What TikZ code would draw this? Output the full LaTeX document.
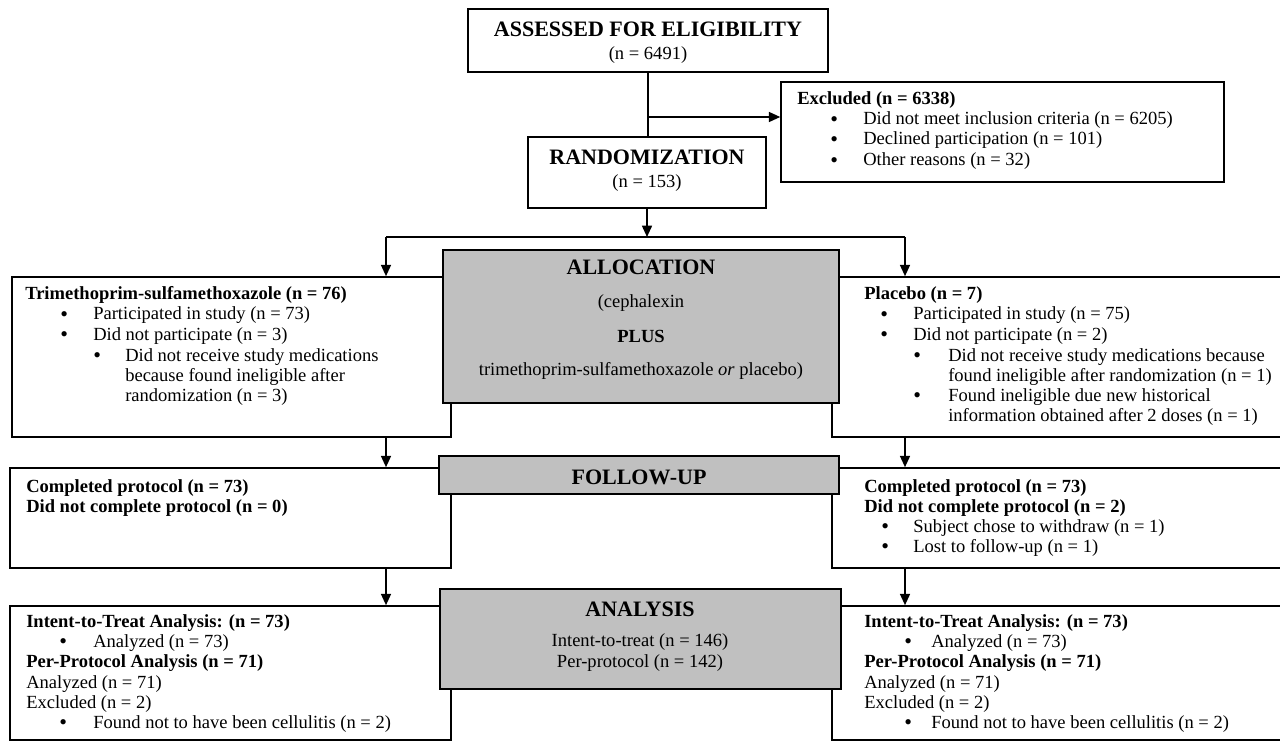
\documentclass[tikz,border=0pt]{standalone}
\usepackage{fontspec}
\setmainfont{Liberation Serif}
\usetikzlibrary{arrows.meta,fit}
\definecolor{grayfill}{HTML}{C0C0C0}
\newcommand\bodyf{\fontsize{13.9pt}{15.2pt}\selectfont}
\newcommand\headf{\fontsize{16.5pt}{19pt}\selectfont\bfseries}
\newcommand\bigbul{\raisebox{-0.9pt}{\fontsize{16.5pt}{16.5pt}\selectfont\textbullet}}
\tikzset{
  box/.style={draw=black, line width=1.2pt, fill=white, inner sep=0pt, rectangle},
  graybox/.style={box, fill=grayfill},
  txt/.style={anchor=base west, inner sep=0pt, font=\bodyf},
  ctxt/.style={anchor=base, inner sep=0pt, font=\bodyf},
  htxt/.style={anchor=base, inner sep=0pt, font=\headf},
  arr/.style={line width=1.2pt, -{Triangle[length=8.5pt,width=7.5pt]}},
  ln/.style={line width=1.2pt},
}
\newcommand\tline[4]{\node[txt] (#1) at (#2,#3) {#4};}
\newcommand\bline[5]{\node[txt] (#1) at (#2,#3) {\makebox[#4][l]{\bigbul}#5};}
\begin{document}
\begin{tikzpicture}[x=0.75pt,y=-0.75pt]
\useasboundingbox (0,0) rectangle (1280,741);
\clip (0,0) rectangle (1280,741);
% boxes
\node[box, fit={(468,9) (828,72)}] (assess) {};
\node[box, fit={(781,82) (1224,182)}] (excl) {};
\node[box, fit={(528,137) (766,208)}] (rand) {};
\node[box, fit={(12,277) (451,437)}] (lbox1) {};
\node[box, fit={(832,277) (1295,437)}] (rbox1) {};
\node[box, fit={(10,468) (451,568)}] (lbox2) {};
\node[box, fit={(832,468) (1295,568)}] (rbox2) {};
\node[box, fit={(10,606) (451,740)}] (lbox3) {};
\node[box, fit={(832,606) (1295,740)}] (rbox3) {};
\node[graybox, fit={(443,250) (839,403)}] (alloc) {};
\node[graybox, fit={(439,456) (839,494)}] (follow) {};
\node[graybox, fit={(440,589) (841,689)}] (analysis) {};
% connectors
\coordinate (j1) at (648,117);
\coordinate (hl) at (647,237);
\coordinate (hlL) at (386,237);
\coordinate (hlR) at (905,237);
\draw[ln] (assess.south -| j1) -- (rand.north -| j1);
\draw[arr] (j1) -- (j1 -| excl.west);
\draw[arr] (rand.south -| hl) -- (hl);
\draw[ln] (hlL) -- (hlR);
\draw[arr] (hlL) -- (lbox1.north -| hlL);
\draw[arr] (hlR) -- (rbox1.north -| hlR);
\draw[arr] (lbox1.south -| hlL) -- (lbox2.north -| hlL);
\draw[arr] (rbox1.south -| hlR) -- (rbox2.north -| hlR);
\draw[arr] (lbox2.south -| hlL) -- (lbox3.north -| hlL);
\draw[arr] (rbox2.south -| hlR) -- (rbox3.north -| hlR);
% top texts
\node[htxt] (a1) at (648,37) {ASSESSED FOR ELIGIBILITY};
\node[ctxt] (a2) at (648,60) {(n = 6491)};
\node[htxt] (r1) at (647,165) {RANDOMIZATION};
\node[ctxt] (r2) at (647,188) {(n = 153)};
\tline{e1}{797}{105}{\textbf{Excluded (n = 6338)}}
\bline{e2}{830}{125}{24.75pt}{Did not meet inclusion criteria (n = 6205)}
\bline{e3}{830}{145}{24.75pt}{Declined participation (n = 101)}
\bline{e4}{830}{166}{24.75pt}{Other reasons (n = 32)}
% allocation
\node[htxt] (al1) at (641,275) {ALLOCATION};
\node[ctxt] (al2) at (641,308) {(cephalexin};
\node[ctxt] (al3) at (641,342) {\textbf{PLUS}};
\node[ctxt] (al4) at (641,375) {trimethoprim-sulfamethoxazole \textit{or} placebo)};
% left box 1
\tline{l1}{25}{300}{\textbf{Trimethoprim-sulfamethoxazole (n = 76)}}
\bline{l2}{60}{320}{24.75pt}{Participated in study (n = 73)}
\bline{l3}{60}{340}{24.75pt}{Did not participate (n = 3)}
\bline{l4}{93}{361}{24pt}{Did not receive study medications}
\tline{l5}{125}{381}{because found ineligible after}
\tline{l6}{125}{401}{randomization (n = 3)}
% right box 1
\tline{p1}{864}{300}{\textbf{Placebo (n = 7)}}
\bline{p2}{880}{320}{24.75pt}{Participated in study (n = 75)}
\bline{p3}{880}{340}{24.75pt}{Did not participate (n = 2)}
\bline{p4}{913}{361}{26.25pt}{Did not receive study medications because}
\tline{p5}{948}{381}{found ineligible after randomization (n = 1)}
\bline{p6}{913}{401}{26.25pt}{Found ineligible due new historical}
\tline{p7}{948}{421}{information obtained after 2 doses (n = 1)}
% follow-up
\node[htxt] (f0) at (639,484) {FOLLOW-UP};
\tline{f1}{26}{492}{\textbf{Completed protocol (n = 73)}}
\tline{f2}{26}{512}{\textbf{Did not complete protocol (n = 0)}}
\tline{g1}{864}{492}{\textbf{Completed protocol (n = 73)}}
\tline{g2}{864}{512}{\textbf{Did not complete protocol (n = 2)}}
\bline{g3}{881}{532}{24pt}{Subject chose to withdraw (n = 1)}
\bline{g4}{881}{552}{24pt}{Lost to follow-up (n = 1)}
% analysis
\node[htxt] (n0) at (640,616) {ANALYSIS};
\node[ctxt] (n1) at (640,646) {Intent-to-treat (n = 146)};
\node[ctxt] (n2) at (640,667) {Per-protocol (n = 142)};
\tline{b1}{26}{627}{\textbf{Intent-to-Treat Analysis: (n = 73)}}
\bline{b2}{59}{647}{25.5pt}{Analyzed (n = 73)}
\tline{b3}{26}{667}{\textbf{Per-Protocol Analysis (n = 71)}}
\tline{b4}{26}{688}{Analyzed (n = 71)}
\tline{b5}{26}{708}{Excluded (n = 2)}
\bline{b6}{59}{728}{25.5pt}{Found not to have been cellulitis (n = 2)}
\tline{c1}{864}{627}{\textbf{Intent-to-Treat Analysis: (n = 73)}}
\bline{c2}{904}{647}{20.25pt}{Analyzed (n = 73)}
\tline{c3}{864}{667}{\textbf{Per-Protocol Analysis (n = 71)}}
\tline{c4}{864}{688}{Analyzed (n = 71)}
\tline{c5}{864}{708}{Excluded (n = 2)}
\bline{c6}{904}{728}{20.25pt}{Found not to have been cellulitis (n = 2)}
\end{tikzpicture}
\end{document}
